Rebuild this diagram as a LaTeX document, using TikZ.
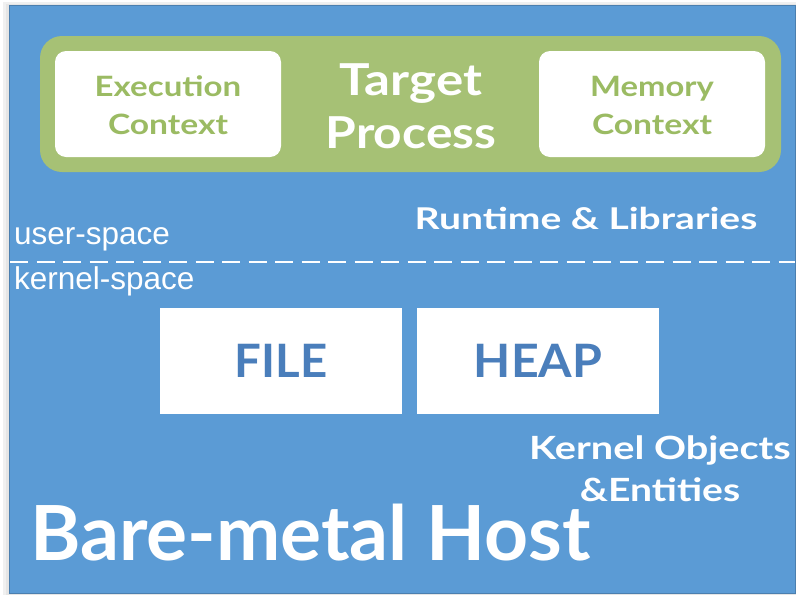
\documentclass[tikz,border=0pt]{standalone}
\usepackage{fontspec}
\usepackage{graphicx}
\setmainfont{Lato}
\newfontfamily\arialfont{Liberation Sans}
\newcommand{\hx}[2]{\scalebox{#1}[1]{#2}}
\definecolor{hostblue}{HTML}{5B9BD5}
\definecolor{procgreen}{HTML}{A6C175}
\definecolor{ctxgreen}{HTML}{9BBB63}
\definecolor{objblue}{HTML}{4A7EBB}
\tikzset{
  ctxbox/.style={fill=white, rounded corners=11pt, inner sep=0pt},
  objbox/.style={fill=white, inner sep=0pt},
  ctxlabel/.style={text=ctxgreen, font=\bfseries\fontsize{28}{38}\selectfont, align=center},
  objlabel/.style={text=objblue, font=\bfseries\fontsize{46}{50}\selectfont},
  hostlabel/.style={text=white, font=\bfseries, align=center},
  spacelabel/.style={text=white, font=\arialfont\fontsize{31.5}{32}\selectfont, anchor=base west, inner sep=0pt},
}
\begin{document}
\begin{tikzpicture}[x=1pt, y=-1pt]
  % page extent
  \useasboundingbox (0,0) rectangle (796,595);
  \fill[white] (0,0) rectangle (796,595);
  % faint edge shadow on the left and top
  \fill[black!6] (3,2) rectangle (796,595);
  \fill[black!10] (6,4) rectangle (796,595);
  % host area
  \filldraw[fill=hostblue, draw=hostblue!82!black, line width=0.8pt] (9,5) rectangle (795.6,593.6);

  % process container
  \fill[procgreen, rounded corners=22pt] (40,36) rectangle (781,172);
  \node[ctxbox, minimum width=226pt, minimum height=106pt] (exec) at (168,104) {};
  \node[ctxbox, minimum width=226pt, minimum height=106pt] (mem) at (652,104) {};
  \node[ctxlabel] at ([yshift=-1pt]exec.center) {\hx{1.18}{Execution}\\\hx{1.2}{Context}};
  \node[ctxlabel] at ([yshift=-1pt]mem.center) {\hx{1.17}{Memory}\\\hx{1.2}{Context}};
  \node[text=white, font=\bfseries\fontsize{44}{53}\selectfont, align=center] (proc) at (411,106) {\hx{1.16}{Target}\\\hx{1.13}{Process}};

  \node[hostlabel, font=\bfseries\fontsize{30}{36}\selectfont] (rt) at (586,218) {\hx{1.3}{Runtime \& Libraries}};

  % user / kernel boundary
  \coordinate (bl) at (10,262);
  \coordinate (br) at (795,262);
  \draw[white, line width=2.5pt, dash pattern=on 18pt off 8.5pt] (bl) -- (br);
  \node[spacelabel] (us) at (14,244) {user-space};
  \node[spacelabel] (ks) at (14,289) {kernel-space};

  % kernel objects
  \node[objbox, minimum width=242pt, minimum height=106pt] (file) at (281,361) {};
  \node[objbox, minimum width=242pt, minimum height=106pt] (heap) at (538,361) {};
  \node[objlabel] at (file.center) {\hx{1.03}{FILE}};
  \node[objlabel] at (heap.center) {\hx{1.05}{HEAP}};

  \node[hostlabel, font=\bfseries\fontsize{32}{42}\selectfont] (ko) at (660,469) {\hx{1.24}{Kernel Objects}\\\hx{1.22}{\&Entities}};

  \node[text=white, font=\bfseries\fontsize{76}{80}\selectfont, anchor=base west, inner sep=0pt] (host) at (30,560) {\hx{1.01}{Bare-metal Host}};
\end{tikzpicture}
\end{document}
